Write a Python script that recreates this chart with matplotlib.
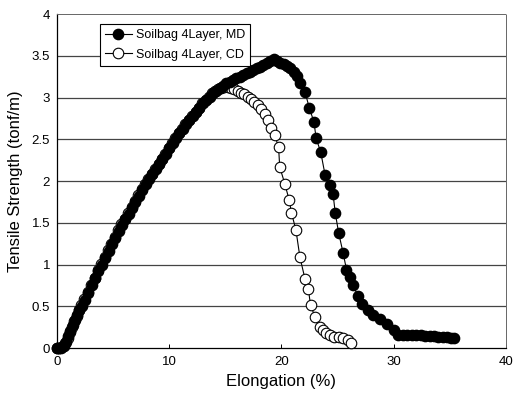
import matplotlib
matplotlib.use("Agg")
import matplotlib.pyplot as plt
from matplotlib.ticker import FuncFormatter

# ---- data ----
md_x = [0.0, 0.2, 0.4, 0.6, 0.8, 1.0, 1.2, 1.4, 1.6, 1.8, 2.0, 2.2, 2.5, 2.8, 3.1, 3.4, 3.7,
        4.0, 4.3, 4.6, 4.9, 5.2, 5.5, 5.8, 6.1, 6.4, 6.7, 7.0, 7.3, 7.6, 7.9, 8.2, 8.5, 8.8,
        9.1, 9.4, 9.7, 10.0, 10.3, 10.6, 10.9, 11.2, 11.5, 11.8, 12.1, 12.4, 12.7, 13.0, 13.3,
        13.6, 13.9, 14.2, 14.5, 14.8, 15.1, 15.4, 15.7, 16.0, 16.3, 16.6, 16.9, 17.2, 17.5,
        17.8, 18.1, 18.4, 18.7, 19.0, 19.3, 19.6, 19.9, 20.2, 20.5, 20.8, 21.1, 21.4, 21.7,
        22.1, 22.5, 22.9, 23.1, 23.5, 23.9, 24.3, 24.6, 24.8, 25.1, 25.5, 25.8, 26.1, 26.4,
        26.8, 27.2, 27.7, 28.2, 28.8, 29.4, 30.0, 30.4, 30.8, 31.2, 31.6, 32.0, 32.4, 32.8,
        33.2, 33.6, 34.0, 34.4, 34.8, 35.1, 35.4]
md_y = [0.0, 0.0, 0.0, 0.02, 0.07, 0.14, 0.2, 0.27, 0.33, 0.4, 0.46, 0.5, 0.58, 0.66, 0.75, 0.84, 0.92,
        1.0, 1.08, 1.16, 1.24, 1.32, 1.4, 1.47, 1.54, 1.61, 1.68, 1.75, 1.82, 1.89, 1.96, 2.02, 2.08, 2.14,
        2.2, 2.26, 2.32, 2.39, 2.45, 2.51, 2.57, 2.62, 2.68, 2.73, 2.78, 2.83, 2.88, 2.93, 2.97,
        3.01, 3.05, 3.08, 3.11, 3.14, 3.17, 3.19, 3.21, 3.23, 3.25, 3.27, 3.29, 3.31, 3.33,
        3.35, 3.37, 3.39, 3.41, 3.44, 3.46, 3.44, 3.41, 3.40, 3.38, 3.35, 3.31, 3.26, 3.18,
        3.07, 2.87, 2.71, 2.51, 2.35, 2.07, 1.95, 1.85, 1.62, 1.38, 1.14, 0.94, 0.85, 0.76,
        0.62, 0.53, 0.46, 0.40, 0.35, 0.29, 0.21, 0.16, 0.15, 0.15, 0.15, 0.15, 0.15, 0.14,
        0.14, 0.14, 0.13, 0.13, 0.13, 0.12, 0.12]

cd_x = [0.0, 0.2, 0.5, 0.75, 0.95, 1.15, 1.35, 1.55, 1.75, 1.95, 2.15, 2.45, 2.75, 3.05, 3.35, 3.65, 3.95,
        4.25, 4.55, 4.85, 5.15, 5.45, 5.75, 6.05, 6.35, 6.65, 6.95, 7.25, 7.55, 7.85, 8.15, 8.45, 8.75, 9.05,
        9.35, 9.65, 9.95, 10.25, 10.55, 10.85, 11.15, 11.45, 11.75, 12.05, 12.35, 12.65, 12.95, 13.25, 13.55,
        13.8, 14.05, 14.35, 14.6, 14.9, 15.2, 15.5, 15.8, 16.1, 16.4, 16.7, 17.0, 17.3, 17.6,
        17.9, 18.2, 18.5, 18.8, 19.1, 19.4, 19.75, 19.85, 20.3, 20.7, 20.9, 21.3, 21.65,
        22.1, 22.4, 22.6, 23.0, 23.4, 23.7, 24.0, 24.3, 24.7, 25.1, 25.5, 25.9, 26.2]
cd_y = [0.0, 0.0, 0.02, 0.06, 0.12, 0.19, 0.25, 0.32, 0.38, 0.45, 0.51, 0.59, 0.67, 0.76, 0.84, 0.93, 1.01,
        1.09, 1.17, 1.25, 1.33, 1.41, 1.48, 1.55, 1.62, 1.69, 1.76, 1.83, 1.90, 1.97, 2.03, 2.09, 2.15, 2.21,
        2.27, 2.33, 2.39, 2.45, 2.51, 2.57, 2.62, 2.68, 2.73, 2.78, 2.83, 2.88, 2.93, 2.97, 3.01,
        3.05, 3.08, 3.10, 3.12, 3.13, 3.13, 3.12, 3.10, 3.08, 3.06, 3.04, 3.01, 2.98, 2.95,
        2.91, 2.86, 2.80, 2.73, 2.64, 2.55, 2.41, 2.17, 1.97, 1.77, 1.62, 1.41, 1.09,
        0.83, 0.71, 0.51, 0.375, 0.255, 0.21, 0.18, 0.15, 0.135, 0.13, 0.12, 0.09, 0.06]

md_label = "Soilbag 4Layer, MD"
cd_label = "Soilbag 4Layer, CD"
x_ticks = [0, 10, 20, 30, 40]
y_ticks = [0, 0.5, 1, 1.5, 2, 2.5, 3, 3.5, 4]

plt.rcParams['font.family'] = ['Liberation Sans', 'DejaVu Sans']

fig = plt.figure(figsize=(5.13, 3.98), dpi=100)
ax = fig.add_axes([0.111, 0.1256, 0.875, 0.839])

ax.set_xlim(0, 40)
ax.set_ylim(0, 4)
ax.set_xticks(x_ticks)
ax.set_yticks(y_ticks)
ax.yaxis.set_major_formatter(FuncFormatter(lambda v, p: f"{v:g}"))

for yv in y_ticks[1:-1]:
    ax.axhline(yv, color='#444444', lw=0.9, zorder=1)

ax.plot(cd_x, cd_y, color='black', lw=0.8, marker='o', markersize=7.6,
        markerfacecolor='white', markeredgecolor='black', markeredgewidth=0.8,
        clip_on=False, zorder=3, label=cd_label)
ax.plot(md_x, md_y, color='black', lw=0.8, marker='o', markersize=7.4,
        markerfacecolor='black', markeredgecolor='black',
        clip_on=False, zorder=4, label=md_label)

h, l = ax.get_legend_handles_labels()
leg = ax.legend([h[1], h[0]], [l[1], l[0]], loc='upper left',
                bbox_to_anchor=(0.095, 0.97), frameon=True, fancybox=False,
                edgecolor='black', framealpha=1, fontsize=9, handlelength=2.2,
                borderpad=0.4, labelspacing=0.6, handletextpad=0.3, borderaxespad=0)
leg.get_frame().set_linewidth(0.8)
leg.set_zorder(6)

for s in ['left', 'bottom']:
    ax.spines[s].set_color('black')
    ax.spines[s].set_linewidth(0.9)
for s in ['top', 'right']:
    ax.spines[s].set_color('#666666')
    ax.spines[s].set_linewidth(0.7)
    ax.spines[s].set_linestyle((0, (1, 1)))

ax.tick_params(axis='x', direction='in', length=3, width=0.7, labelsize=9.5, pad=6)
ax.tick_params(axis='y', length=0, labelsize=9.5, pad=5)

ax.set_xlabel("Elongation (%)", fontsize=12, labelpad=4)
ax.set_ylabel("Tensile Strength (tonf/m)", fontsize=12, labelpad=6)

fig.savefig("out.png", dpi=100)
